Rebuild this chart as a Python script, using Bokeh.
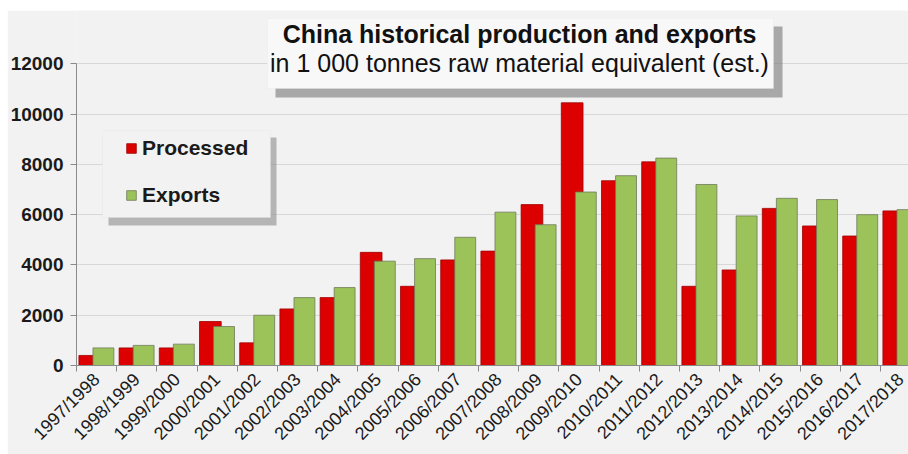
import math
from bokeh.plotting import figure
from bokeh.models import (ColumnDataSource, Range1d, FixedTicker, Legend, LegendItem,
                          BoxAnnotation, Label)
from bokeh.transform import dodge
from bokeh.embed import file_html
from bokeh.resources import INLINE

# ---------------- data ----------------
seasons = ["1997/1998", "1998/1999", "1999/2000", "2000/2001", "2001/2002", "2002/2003",
           "2003/2004", "2004/2005", "2005/2006", "2006/2007", "2007/2008", "2008/2009",
           "2009/2010", "2010/2011", "2011/2012", "2012/2013", "2013/2014", "2014/2015",
           "2015/2016", "2016/2017", "2017/2018"]
processed = [400, 700, 700, 1750, 900, 2250, 2700, 4500, 3150, 4200, 4550, 6400,
             10450, 7350, 8100, 3150, 3800, 6250, 5550, 5150, 6150]
exports = [700, 800, 850, 1550, 2000, 2700, 3100, 4150, 4250, 5100, 6100, 5600,
           6900, 7550, 8250, 7200, 5950, 6650, 6600, 6000, 6200]
y_ticks = [0, 2000, 4000, 6000, 8000, 10000, 12000]
title_text = "China historical production and exports"
subtitle_text = "in 1 000 tonnes raw material equivalent (est.)"

FONT = "Liberation Sans"
BG = "#f2f2f2"

idx = list(range(len(seasons)))
src = ColumnDataSource(dict(x=idx, processed=processed, exports=exports))

# layout constants (page pixels)
FR_LEFT, FR_BOTTOM, FR_TOP, FR_RIGHT = 76, 365, 10, 908
PX_PER_CAT = 40.2
PX_PER_1000 = 25.14
x_start = -0.5
x_end = x_start + (FR_RIGHT - FR_LEFT) / PX_PER_CAT
y_end = (FR_BOTTOM - FR_TOP) / PX_PER_1000 * 1000


def X(px):
    return x_start + (px - FR_LEFT) / PX_PER_CAT


def Y(py):
    return (FR_BOTTOM - py) / PX_PER_1000 * 1000


p = figure(width=901, height=444, output_backend="svg", toolbar_location=None,
           x_range=Range1d(x_start, x_end), y_range=Range1d(0, y_end),
           min_border_left=FR_LEFT - 7, min_border_right=0, min_border_top=0,
           min_border_bottom=444 - (FR_BOTTOM - 10))
p.styles = {"margin-left": "7px", "margin-top": "10px"}
p.background_fill_color = BG
p.border_fill_color = BG
p.outline_line_color = None

# bars
r_proc = p.vbar(x=dodge("x", -0.17), width=0.54, top="processed", bottom=0, source=src,
                fill_color="#dc0000", line_color="#a00000", line_width=0.8)
r_exp = p.vbar(x=dodge("x", 0.17), width=0.52, top="exports", bottom=0, source=src,
               fill_color="#9cc35a", line_color="#6e7a5a", line_width=0.8)

# grid
p.xgrid.visible = False
p.ygrid.ticker = FixedTicker(ticks=y_ticks)
p.ygrid.grid_line_color = "#d8d8d8"
p.ygrid.grid_line_width = 1

# y axis
ya = p.yaxis[0]
ya.ticker = FixedTicker(ticks=y_ticks)
ya.bounds = (0, 12000)
ya.axis_line_color = "#8a8a8a"
ya.major_tick_line_color = "#8a8a8a"
ya.major_tick_out = 6
ya.major_tick_in = 0
ya.minor_tick_line_color = None
ya.major_label_standoff = 7
ya.major_label_text_font = FONT
ya.major_label_text_font_style = "bold"
ya.major_label_text_font_size = "19px"
ya.major_label_text_color = "#1a1a1a"

# x axis
xa = p.xaxis[0]
xa.ticker = FixedTicker(ticks=idx, minor_ticks=[i - 0.5 for i in range(len(seasons) + 1)])
xa.major_label_overrides = {i: s for i, s in enumerate(seasons)}
xa.axis_line_color = "#8a8a8a"
xa.major_tick_line_color = None
xa.major_tick_out = 0
xa.major_tick_in = 0
xa.minor_tick_line_color = "#8a8a8a"
xa.minor_tick_out = 6
xa.minor_tick_in = 0
xa.major_label_orientation = math.pi / 4
xa.major_label_standoff = 5
xa.major_label_text_font = FONT
xa.major_label_text_font_size = "18px"
xa.major_label_text_color = "#1a1a1a"

# legend box with shadow
p.add_layout(BoxAnnotation(left=X(108), right=X(276), top=Y(137), bottom=Y(225),
                           fill_color="#8c8c8c", fill_alpha=0.6, line_color=None))
p.add_layout(BoxAnnotation(left=X(102), right=X(270), top=Y(130), bottom=Y(217),
                           fill_color=BG, fill_alpha=1.0, line_color="#e0e0e0",
                           line_width=1))
legend = Legend(items=[LegendItem(label="Processed", renderers=[r_proc]),
                       LegendItem(label="Exports", renderers=[r_exp])],
                location=(125 - FR_LEFT, FR_BOTTOM - 207))
legend.background_fill_alpha = 0
legend.border_line_color = None
legend.padding = 0
legend.margin = 0
legend.spacing = 23
legend.label_height = 24
legend.glyph_width = 12
legend.glyph_height = 12
legend.label_standoff = 5
legend.label_text_font = FONT
legend.label_text_font_style = "bold"
legend.label_text_font_size = "21px"
legend.label_text_color = "#1a1a1a"
p.add_layout(legend)

# title box with shadow
p.add_layout(BoxAnnotation(left=X(275), right=X(782), top=Y(26), bottom=Y(97),
                           fill_color="#808080", fill_alpha=0.65, line_color=None))
p.add_layout(BoxAnnotation(left=X(267), right=X(773), top=Y(18), bottom=Y(88),
                           fill_color="#f8f8f8", fill_alpha=1.0, line_color="#e4e4e4",
                           line_width=1))
p.add_layout(Label(x=X(519), y=Y(33), text=title_text, text_align="center",
                   text_baseline="middle", text_font=FONT, text_font_style="bold",
                   text_font_size="25px", text_color="#111111"))
p.add_layout(Label(x=X(519), y=Y(62), text=subtitle_text, text_align="center",
                   text_baseline="middle", text_font=FONT, text_font_size="25px",
                   text_color="#111111"))

open("out.html", "w").write(file_html(p, INLINE))
